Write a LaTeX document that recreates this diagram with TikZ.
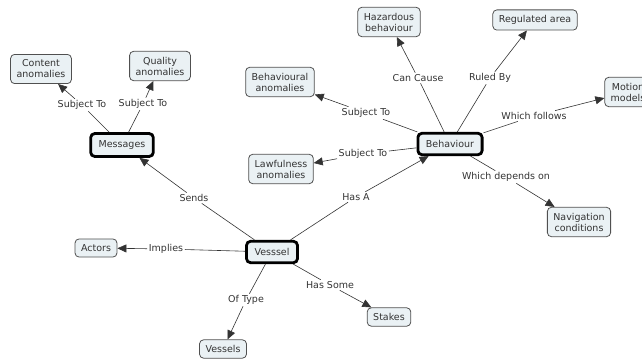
\documentclass[tikz,border=0pt]{standalone}
\usepackage{fontspec}
\setmainfont{DejaVu Sans}
\usetikzlibrary{arrows.meta}
\definecolor{conceptfill}{HTML}{EAF1F4}
\definecolor{conceptline}{HTML}{505050}
\definecolor{inkgray}{HTML}{333333}
\tikzset{
  concept/.style={
    draw=conceptline,
    fill=conceptfill,
    rounded corners=4pt,
    align=center,
    text=inkgray,
    font=\fontsize{9.5}{11}\selectfont,
    inner xsep=6pt,
    inner ysep=5.5pt,
    line width=0.8pt
  },
  hub/.style={concept, draw=black, line width=2.8pt, inner xsep=8pt, inner ysep=7pt},
  linkword/.style={text=inkgray, font=\fontsize{9.5}{11}\selectfont, inner sep=1.5pt},
  rel/.style={draw=inkgray, line width=0.6pt},
  relto/.style={rel, -{Triangle[length=9pt,width=8pt]}}
}
\begin{document}
\begin{tikzpicture}[x=1pt,y=-1pt]
  \useasboundingbox (0,0) rectangle (642,363);
  % concepts
  \node[hub] (vessel) at (272,252) {Vesssel};
  \node[hub] (messages) at (122,145) {Messages};
  \node[hub] (behaviour) at (450,144) {Behaviour};
  \node[concept] (content) at (41,69) {Content\\anomalies};
  \node[concept] (quality) at (160,66) {Quality\\anomalies};
  \node[concept] (hazard) at (389,22) {Hazardous\\behaviour};
  \node[concept] (regulated) at (535,20) {Regulated area};
  \node[concept] (behavanom) at (280,82) {Behavioural\\anomalies};
  \node[concept] (lawanom) at (281,169) {Lawfulness\\anomalies};
  \node[concept] (motion) at (628,92) {Motion\\models};
  \node[concept] (navigation) at (579,222) {Navigation\\conditions};
  \node[concept] (actors) at (96,248) {Actors};
  \node[concept] (vessels) at (223,349) {Vessels};
  \node[concept] (stakes) at (389,317) {Stakes};
  % linking words
  \node[linkword] (lcontent) at (82,105) {Subject To};
  \node[linkword] (lquality) at (143,104) {Subject To};
  \node[linkword] (lsends) at (194,198) {Sends};
  \node[linkword] (limplies) at (166,249) {Implies};
  \node[linkword] (ltype) at (246,300) {Of Type};
  \node[linkword] (lsome) at (330,285) {Has Some};
  \node[linkword] (lhas) at (356,197) {Has A};
  \node[linkword] (lbehav) at (366,113) {Subject To};
  \node[linkword] (llaw) at (363,154) {Subject To};
  \node[linkword] (lcause) at (418,78) {Can Cause};
  \node[linkword] (lruled) at (490,78) {Ruled By};
  \node[linkword] (lfollows) at (534,116) {Which follows};
  \node[linkword] (ldepends) at (506,177) {Which depends on};
  % connections
  \draw[rel] (messages) -- (lcontent);
  \draw[relto] (lcontent) -- (content);
  \draw[rel] (messages) -- (lquality);
  \draw[relto] (lquality) -- (quality);
  \draw[rel] (vessel) -- (lsends);
  \draw[relto] (lsends) -- (messages);
  \draw[rel] (vessel) -- (limplies);
  \draw[relto] (limplies) -- (actors);
  \draw[rel] (vessel) -- (ltype);
  \draw[relto] (ltype) -- (vessels);
  \draw[rel] (vessel) -- (lsome);
  \draw[relto] (lsome) -- (stakes);
  \draw[rel] (vessel) -- (lhas);
  \draw[relto] (lhas) -- (behaviour);
  \draw[rel] (behaviour) -- (lbehav);
  \draw[relto] (lbehav) -- (behavanom);
  \draw[rel] (behaviour) -- (llaw);
  \draw[relto] (llaw) -- (lawanom);
  \draw[rel] (behaviour) -- (lcause);
  \draw[relto] (lcause) -- (hazard);
  \draw[rel] (behaviour) -- (lruled);
  \draw[relto] (lruled) -- (regulated);
  \draw[rel] (behaviour) -- (lfollows);
  \draw[relto] (lfollows) -- (motion);
  \draw[rel] (behaviour) -- (ldepends);
  \draw[relto] (ldepends) -- (navigation);
\end{tikzpicture}
\end{document}
